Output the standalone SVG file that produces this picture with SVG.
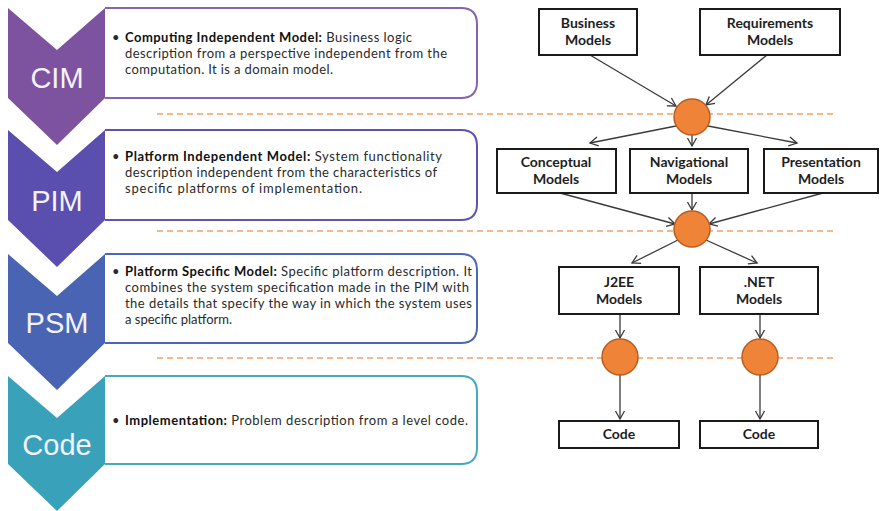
<svg xmlns="http://www.w3.org/2000/svg" width="883" height="511" viewBox="0 0 883 511">
<style>
.lbl{font-family:"Liberation Sans",Arial,sans-serif;font-size:29px;fill:#f4f2f8;text-anchor:middle}
.desc{font-family:Lato,"Liberation Sans",sans-serif;font-size:13px;fill:#2a2a2a}
.b{font-weight:bold;fill:#111}
.node rect{fill:#fff;stroke:#1a1a1a;stroke-width:2}
.nt{font-family:Lato,"Liberation Sans",sans-serif;font-size:14px;font-weight:bold;fill:#1e1e1e;text-anchor:middle}
.hub{fill:#ef8439;stroke:#b95d22;stroke-width:1.5}
.dash{stroke:#f4a067;stroke-width:1.6;stroke-dasharray:6 4;fill:none}
.conn line{stroke:#3a3a3a;stroke-width:1.3;marker-end:url(#ah)}
.box{fill:#fff;stroke-width:2}
</style>
<defs>
<marker id="ah" markerUnits="userSpaceOnUse" markerWidth="12" markerHeight="12" viewBox="0 0 12 12" refX="10" refY="6" orient="auto">
<path d="M2,1.5 L10,6 L2,10.5" fill="none" stroke="#3a3a3a" stroke-width="1.3"/>
</marker>
</defs>
<rect width="883" height="511" fill="#fff"/>

<g id="dashes">
<line class="dash" x1="157" y1="114" x2="833" y2="114"/>
<line class="dash" x1="157" y1="231" x2="833" y2="231"/>
<line class="dash" x1="157" y1="358" x2="833" y2="358"/>
</g>

<g id="cim">
<path class="box" stroke="#8762b0" d="M105,8 H461 Q477,8 477,24 V82 Q477,98 461,98 H105"/>
<polygon fill="#7d539f" points="8,8 57,50 105,8 105,98 57,145 8,98"/>
<text class="lbl" x="57" y="88">CIM</text>
<text class="desc" x="112" y="42">•</text>
<text class="desc" x="125" y="42" textLength="287" lengthAdjust="spacing"><tspan class="b">Computing Independent Model:</tspan> Business logic</text>
<text class="desc" x="125" y="58" textLength="322" lengthAdjust="spacing">description from a perspective independent from the</text>
<text class="desc" x="125" y="74" textLength="208" lengthAdjust="spacing">computation. It is a domain model.</text>
</g>

<g id="pim">
<path class="box" stroke="#5e53b4" d="M105,130 H461 Q477,130 477,146 V204 Q477,220 461,220 H105"/>
<polygon fill="#5a4fae" points="8,130 57,172 105,130 105,220 57,267 8,220"/>
<text class="lbl" x="57" y="211">PIM</text>
<text class="desc" x="112" y="161">•</text>
<text class="desc" x="125" y="161" textLength="317" lengthAdjust="spacing"><tspan class="b">Platform Independent Model:</tspan>  System functionality</text>
<text class="desc" x="125" y="177" textLength="312" lengthAdjust="spacing">description independent from the characteristics of</text>
<text class="desc" x="125" y="193" textLength="237" lengthAdjust="spacing">specific platforms of implementation.</text>
</g>

<g id="psm">
<path class="box" stroke="#4b68b8" d="M105,254 H461 Q477,254 477,270 V327 Q477,343 461,343 H105"/>
<polygon fill="#4a64b4" points="8,254 57,296 105,254 105,343 57,390 8,343"/>
<text class="lbl" x="57" y="333">PSM</text>
<text class="desc" x="112" y="276">•</text>
<text class="desc" x="125" y="276" textLength="347" lengthAdjust="spacing"><tspan class="b">Platform Specific Model:</tspan>  Specific platform description. It</text>
<text class="desc" x="125" y="292" textLength="344" lengthAdjust="spacing">combines the system specification made in the PIM with</text>
<text class="desc" x="125" y="308" textLength="347" lengthAdjust="spacing">the details that specify the way in which the system uses</text>
<text class="desc" x="125" y="324" textLength="107" lengthAdjust="spacing">a specific platform.</text>
</g>

<g id="code">
<path class="box" stroke="#45a9c1" d="M105,376 H461 Q477,376 477,392 V448 Q477,464 461,464 H105"/>
<polygon fill="#3aa1bb" points="8,376 57,418 105,376 105,464 57,511 8,464"/>
<text class="lbl" x="57" y="455">Code</text>
<text class="desc" x="112" y="425">•</text>
<text class="desc" x="125" y="425" textLength="343" lengthAdjust="spacing"><tspan class="b">Implementation:</tspan> Problem description from a level code.</text>
</g>

<g id="connectors" class="conn">
<line x1="590" y1="55" x2="676" y2="106"/>
<line x1="767" y1="55" x2="706" y2="105"/>
<line x1="676" y1="126" x2="590" y2="143"/>
<line x1="692" y1="135" x2="692" y2="146"/>
<line x1="708" y1="126" x2="797" y2="143"/>
<line x1="560" y1="193" x2="675" y2="224"/>
<line x1="692" y1="193" x2="692" y2="210"/>
<line x1="823" y1="193" x2="709" y2="224"/>
<line x1="678" y1="240" x2="632" y2="263"/>
<line x1="706" y1="240" x2="757" y2="263"/>
<line x1="620" y1="314" x2="620" y2="338"/>
<line x1="620" y1="375" x2="620" y2="419"/>
<line x1="760" y1="314" x2="760" y2="338"/>
<line x1="760" y1="375" x2="760" y2="419"/>
</g>

<g id="business" class="node"><rect x="539" y="9" width="98" height="46"/><text class="nt" x="588" y="28">Business</text><text class="nt" x="588" y="45">Models</text></g>
<g id="requirements" class="node"><rect x="700" y="9" width="140" height="46"/><text class="nt" x="770" y="28">Requirements</text><text class="nt" x="770" y="45">Models</text></g>
<g id="hub1"><circle class="hub" cx="692" cy="117" r="18"/></g>
<g id="conceptual" class="node"><rect x="497" y="149" width="119" height="44"/><text class="nt" x="556" y="167">Conceptual</text><text class="nt" x="556" y="184">Models</text></g>
<g id="navigational" class="node"><rect x="630" y="149" width="118" height="44"/><text class="nt" x="689" y="167">Navigational</text><text class="nt" x="689" y="184">Models</text></g>
<g id="presentation" class="node"><rect x="764" y="149" width="114" height="44"/><text class="nt" x="821" y="167">Presentation</text><text class="nt" x="821" y="184">Models</text></g>
<g id="hub2"><circle class="hub" cx="692" cy="229" r="18"/></g>
<g id="j2ee" class="node"><rect x="559" y="267" width="120" height="47"/><text class="nt" x="619" y="287">J2EE</text><text class="nt" x="619" y="304">Models</text></g>
<g id="dotnet" class="node"><rect x="700" y="267" width="118" height="47"/><text class="nt" x="759" y="287">.NET</text><text class="nt" x="759" y="304">Models</text></g>
<g id="hub3"><circle class="hub" cx="620" cy="357" r="18"/></g>
<g id="hub4"><circle class="hub" cx="760" cy="357" r="18"/></g>
<g id="code1" class="node"><rect x="559" y="421" width="120" height="27"/><text class="nt" x="619" y="439">Code</text></g>
<g id="code2" class="node"><rect x="700" y="421" width="118" height="27"/><text class="nt" x="759" y="439">Code</text></g>
</svg>
